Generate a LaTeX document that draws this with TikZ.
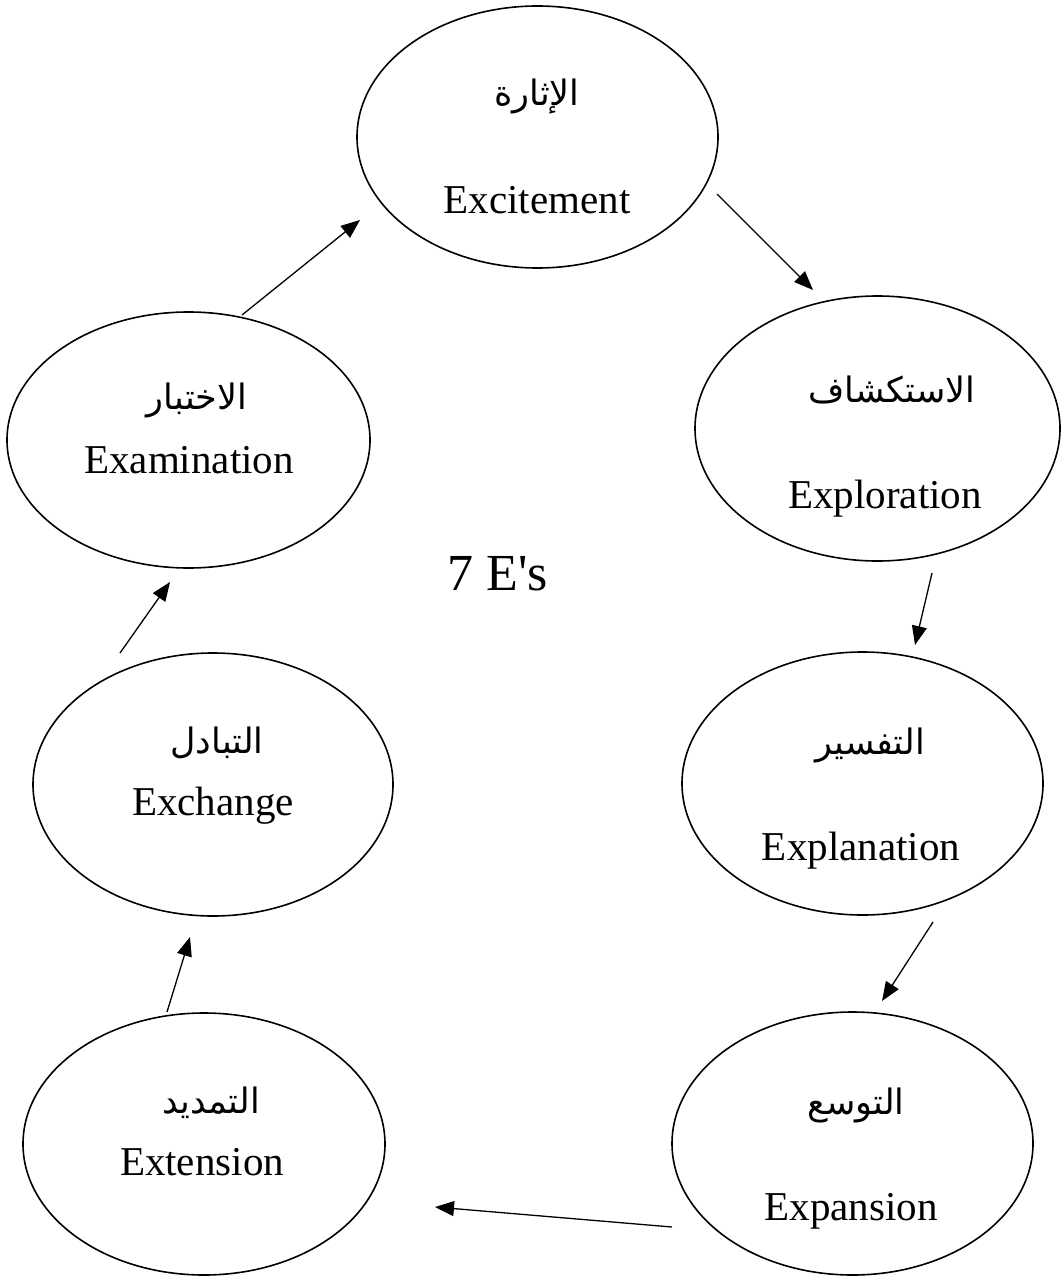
\documentclass[tikz,border=0pt]{standalone}
\usepackage{fontspec}
\setmainfont{Liberation Serif}[Ligatures=TeXOff]
\newfontfamily\arabicfont[Script=Arabic]{DejaVu Sans}
\TeXXeTstate=1
\usetikzlibrary{shapes.geometric,arrows.meta}

\begin{document}
\begin{tikzpicture}[x=1pt,y=-1pt,
  stage/.style={draw, ellipse, line width=1.6pt, inner sep=0pt},
  en/.style={font=\fontsize{41}{41}\selectfont, anchor=base, inner sep=0pt},
  ar/.style={font=\arabicfont\fontsize{35}{35}\selectfont, inner sep=0pt},
  flow/.style={line width=1.3pt, -{Triangle[length=19pt,width=15pt]}}]
\useasboundingbox (0,0) rectangle (1061,1276);

% the seven stages
\node[stage, minimum width=361pt, minimum height=262pt] (exc) at (537.5,137) {};
\node[stage, minimum width=365pt, minimum height=265pt] (exp) at (877.5,428.5) {};
\node[stage, minimum width=361pt, minimum height=263pt] (expl) at (862.5,783.5) {};
\node[stage, minimum width=361pt, minimum height=263pt] (expa) at (852.5,1143.5) {};
\node[stage, minimum width=362pt, minimum height=262pt] (ext) at (204,1144) {};
\node[stage, minimum width=360pt, minimum height=263pt] (exch) at (213,784.5) {};
\node[stage, minimum width=363pt, minimum height=256pt] (exam) at (188.5,440) {};

% labels
\node[ar] (exc-ar) at (537,96) {\beginR الإثارة\endR};
\node[en] (exc-en) at (537,213) {Excitement};
\node[ar] (exp-ar) at (892,390) {\beginR الاستكشاف\endR};
\node[en] (exp-en) at (885,508) {Exploration};
\node[ar] (expl-ar) at (870,745) {\beginR التفسير\endR};
\node[en] (expl-en) at (861,860) {Explanation};
\node[ar] (expa-ar) at (856,1105) {\beginR التوسع\endR};
\node[en] (expa-en) at (851,1220) {Expansion};
\node[ar] (ext-ar) at (211,1103) {\beginR التمديد\endR};
\node[en] (ext-en) at (202,1175) {Extension};
\node[ar] (exch-ar) at (217,743) {\beginR التبادل\endR};
\node[en] (exch-en) at (213,815) {Exchange};
\node[ar] (exam-ar) at (197,400) {\beginR الاختبار\endR};
\node[en] (exam-en) at (189,473) {Examination};

\node[font=\fontsize{52}{52}\selectfont, anchor=base, inner sep=0pt] (title) at (498,590) {7 E's};

% connector end points
\coordinate (a1s) at (717,194);  \coordinate (a1e) at (813,290);
\coordinate (a2s) at (932,573);  \coordinate (a2e) at (915,645);
\coordinate (a3s) at (933,922);  \coordinate (a3e) at (882,1001);
\coordinate (a4s) at (672,1227); \coordinate (a4e) at (435,1207);
\coordinate (a5s) at (167,1012); \coordinate (a5e) at (190,937);
\coordinate (a6s) at (120,653);  \coordinate (a6e) at (170,582);
\coordinate (a7s) at (242,315);  \coordinate (a7e) at (360,220);

\draw[flow] (a1s) -- (a1e);
\draw[flow] (a2s) -- (a2e);
\draw[flow] (a3s) -- (a3e);
\draw[flow] (a4s) -- (a4e);
\draw[flow] (a5s) -- (a5e);
\draw[flow] (a6s) -- (a6e);
\draw[flow] (a7s) -- (a7e);
\end{tikzpicture}
\end{document}
